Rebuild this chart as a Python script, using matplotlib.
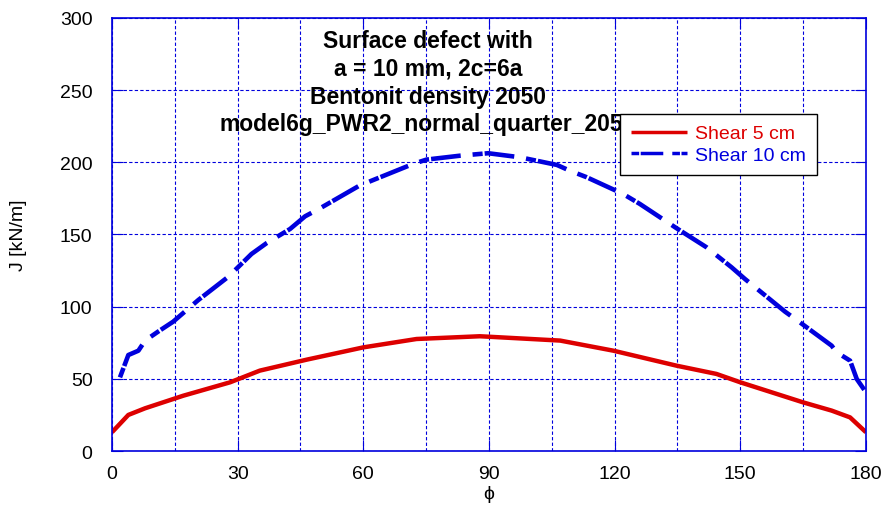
import matplotlib.pyplot as plt

plt.rcParams['font.family'] = ['Liberation Sans', 'DejaVu Sans']

# Shear 5 cm
phi_5 = [0, 3.9, 7.9, 17, 28.2, 35.3, 46.5, 60, 72.7, 87.8, 89.8, 107, 119.7,
         134.8, 144.3, 150, 165, 171.8, 176.2, 180]
J_5 = [13, 25, 29.6, 38.3, 47.6, 55.7, 63.3, 71.8, 77.6, 79.5, 79.2, 76.5, 69.5,
       59.1, 53.4, 47.6, 33.7, 28, 23.3, 13]

# Shear 10 cm
phi_10 = [1.9, 3.9, 6.3, 7.9, 11, 14.6, 20.6, 24.2, 27.8, 33.3, 36.9, 42.5, 46.1,
          49.7, 58.8, 62, 71.9, 75.1, 83.1, 89.8, 97.4, 106.2, 109.3, 113.3, 122,
          126, 134.8, 141.9, 147.9, 151.1, 155.5, 160.7, 164.2, 171.8, 173, 176.2,
          177.8, 180]
J_10 = [51, 66.5, 69.5, 76.5, 82.7, 89.6, 104.6, 112.7, 120.8, 136.5, 144, 153.8,
        162.6, 168.2, 183.4, 187.3, 198.9, 201.9, 204.6, 206.3, 203.5, 198.2, 194.2,
        189.7, 178.1, 171.2, 154.3, 141.2, 127.3, 119.2, 108.8, 96.5, 89.2, 73, 68.4,
        62.6, 49.9, 40.7]

title_lines = ["Surface defect with", "a = 10 mm, 2c=6a", "Bentonit density 2050",
               "model6g_PWR2_normal_quarter_2050"]

red = '#dd0000'
blue = '#0000dd'

fig = plt.figure(figsize=(8.84, 5.06), dpi=100)
ax = fig.add_axes([0.1267, 0.1067, 0.8529, 0.8558])

ax.plot(phi_5, J_5, color=red, lw=3.2, label='Shear 5 cm', solid_capstyle='butt')
ax.plot(phi_10, J_10, color=blue, lw=3.3, label='Shear 10 cm',
        linestyle=(0, (2.2, 0.45, 6.5, 2.6)), dash_capstyle='butt')

ax.set_xlim(0, 180)
ax.set_ylim(0, 300)
ax.set_xticks(range(0, 181, 30))
ax.set_xticks(range(0, 181, 15), minor=True)
ax.set_yticks(range(0, 301, 50))
ax.grid(True, which='both', color=blue, linestyle=(0, (3, 2)), lw=0.8)
ax.tick_params(which='both', direction='in', top=True, right=True,
               color=blue, labelsize=14, length=8)
ax.tick_params(which='minor', length=0)
ax.tick_params(axis='y', pad=14)
ax.tick_params(axis='x', pad=10)
for s in ax.spines.values():
    s.set_color(blue)
    s.set_linewidth(1.2)

ax.set_xlabel('ϕ', fontsize=14, labelpad=2)
ax.set_ylabel('J [kN/m]', fontsize=14, labelpad=24)

ax.text(0.419, 0.975, "\n".join(title_lines), transform=ax.transAxes,
        ha='center', va='top', fontsize=16.5, fontweight='bold',
        linespacing=1.27, zorder=5)

leg = ax.legend(loc='upper left', bbox_to_anchor=(0.674, 0.778), fontsize=14,
                labelcolor='linecolor', fancybox=False, framealpha=1,
                edgecolor='black', handlelength=2.9, borderpad=0.55,
                labelspacing=0.2, handletextpad=0.4, borderaxespad=0)
leg.set_zorder(10)
leg.get_frame().set_linewidth(1)
for h in leg.get_lines():
    h.set_linewidth(2.5)

fig.savefig('out.png', dpi=100)
